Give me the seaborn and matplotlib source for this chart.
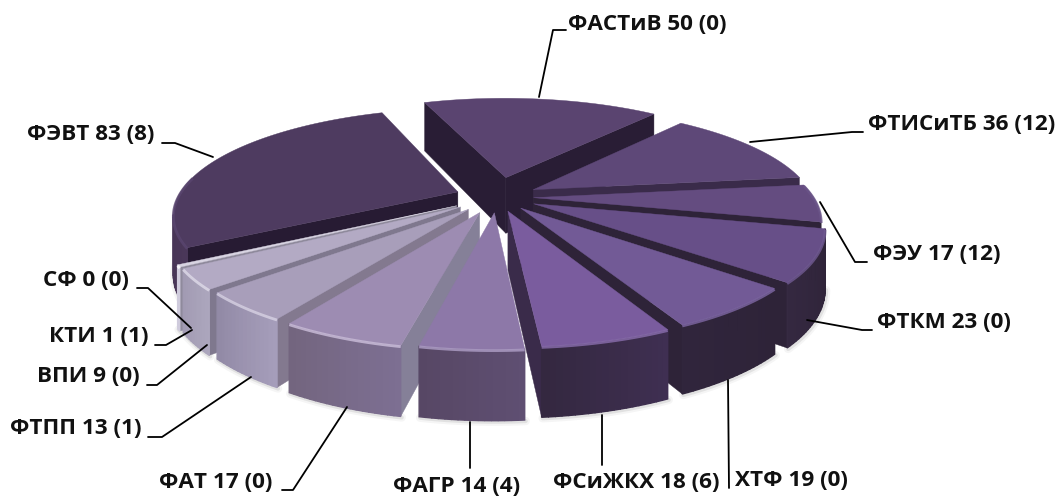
import numpy as np
import matplotlib
matplotlib.use("Agg")
import matplotlib.pyplot as plt
import seaborn as sns

# Data
names = ["ФАСТиВ", "ФТИСиТБ", "ФЭУ", "ФТКМ", "ХТФ", "ФСиЖКХ", "ФАГР", "ФАТ", "ФТПП", "ВПИ", "КТИ", "СФ", "ФЭВТ"]
values = [50, 36, 17, 23, 19, 18, 14, 17, 13, 9, 1, 0, 83]
second = [0, 12, 12, 0, 0, 6, 4, 0, 1, 0, 1, 0, 8]

# how far each slice is pulled out
explode = [0.20, 0.15, 0.13, 0.145, 0.135, 0.14, 0.15, 0.16, 0.155, 0.16, 0.165, 0.165, 0.15]

# colours: top, radial side, outer wall
top_colors = ["#5a4470", "#5e4878", "#644c80", "#674f88", "#725a96", "#7a5c9e", "#8d78a8",
              "#9d8cb2", "#a89eba", "#b3aac4", "#d8d4e2", "#d8d4e2", "#4e3b60"]
side_colors = ["#291d35", "#3a2b4a", "#2e2338", "#2e2338", "#2e2338", "#3a2b4a", "#8a8098",
               "#858098", "#83798f", "#7f788e", "#8f8a9c", "#8f8a9c", "#271b33"]
wall_colors = [("#3a2b4a", "#3a2b4a"), ("#3a2b4a", "#3a2b4a"), ("#2e2338", "#2e2338"), ("#2e2338", "#342840"),
               ("#2e2338", "#30253c"), ("#3f2f52", "#342840"), ("#5f4f72", "#574765"), ("#7d6f92", "#73657f"),
               ("#a59dba", "#928aa6"), ("#aca6bd", "#a29bb3"), ("#cfcbdc", "#cfcbdc"), ("#cfcbdc", "#cfcbdc"),
               ("#4a3759", "#3c2c4a")]
rim_colors = ["#5f4a78", "#64507e", "#6a5488", "#705a92", "#7e67a4", "#8a6eae", "#b0a0c8", "#cdc0dc",
              "#d8d2e4", "#e0dcea", "#ffffff", "#ffffff", "#5a4670"]

# perspective of the disc
CX, CY = 497, 197
KX, KY = 1400, 511
D = 5.0
START = -20.5


def project(x, y):
    return CX + KX * x / (D - y), CY + KY * y / (D - y)


def drop(y):
    # wall height gets bigger towards the viewer
    return 345 / (6.0 - y)


def quad_area(px, py):
    return 0.5 * np.sum(px * np.roll(py, -1) - np.roll(px, -1) * py)


sns.set_theme(style="white")
plt.rcParams["font.family"] = ["Open Sans", "Noto Sans"]
fig = plt.figure(figsize=(10.61, 4.99), dpi=100)
ax = fig.add_axes([0, 0, 1, 1])
ax.set_xlim(0, 1061)
ax.set_ylim(499, 0)
ax.axis("off")

total = sum(values)
angles = START + np.cumsum([0] + values) / total * 360

slices = []
for i, name in enumerate(names):
    if values[i] == 0:
        continue
    a0, a1 = np.radians(angles[i]), np.radians(angles[i + 1])
    mid = (a0 + a1) / 2
    ex, ey = explode[i] * np.sin(mid), -explode[i] * np.cos(mid)
    t = np.linspace(a0, a1, max(4, values[i] + 3))
    arc_x, arc_y = ex + np.sin(t), ey - np.cos(t)
    slices.append((np.mean(arc_y) + ey, i, ex, ey, arc_x, arc_y))

# back slices first
order = 1
for _, i, ex, ey, arc_x, arc_y in sorted(slices, key=lambda s: s[0]):
    order += 1
    x0, y0 = project(ex, ey)
    top_x, top_y = project(arc_x, arc_y)
    h0 = drop(ey)
    hs = drop(arc_y)

    # soft shadow under the front edge
    if arc_y.max() > 0:
        for w, alpha in ((6, 0.06), (3, 0.12)):
            ax.plot(top_x + 1, top_y + hs + 1, color="#555555", lw=w, alpha=alpha, zorder=1)

    # radial sides, only those facing us
    for k, sign in ((0, 1), (-1, -1)):
        px = np.array([x0, top_x[k], top_x[k], x0])
        py = np.array([y0, top_y[k], top_y[k] + hs[k], y0 + h0])
        if quad_area(px, py) * sign < 0:
            ax.fill(px, py, color=side_colors[i], lw=0.3, zorder=order)

    # outer wall, split in bits so the shade can change along it
    n = len(arc_x)
    c_a, c_b = [np.array(matplotlib.colors.to_rgb(c)) for c in wall_colors[i]]
    for k in range(n - 1):
        px = np.array([top_x[k], top_x[k + 1], top_x[k + 1], top_x[k]])
        py = np.array([top_y[k], top_y[k + 1], top_y[k + 1] + hs[k + 1], top_y[k] + hs[k]])
        if quad_area(px, py) > 0:
            continue
        ax.fill(px, py, color=c_a + (c_b - c_a) * k / max(n - 2, 1), lw=1.0, zorder=order)

    # top
    ax.fill(np.r_[x0, top_x], np.r_[y0, top_y], color=top_colors[i], lw=0.3, zorder=order)

    # bevel along the front of the top
    front = arc_y > -0.2
    if front.sum() > 1:
        ax.plot(top_x[front], top_y[front] + 1, color=rim_colors[i], lw=2.0, alpha=0.8,
                solid_capstyle="butt", zorder=order)

# leader lines
leaders = {
    "ФАСТиВ": [(566, 30), (553, 30), (539, 97)],
    "ФТИСиТБ": [(863, 132), (852, 132), (750, 142)],
    "ФЭУ": [(820, 202), (855, 262), (867, 262)],
    "ФТКМ": [(807, 320), (862, 330), (872, 330)],
    "ХТФ": [(728, 380), (729, 488)],
    "ФСиЖКХ": [(602, 415), (602, 465)],
    "ФАГР": [(470, 422), (470, 468)],
    "ФАТ": [(347, 407), (293, 490), (282, 490)],
    "ФТПП": [(251, 377), (162, 437), (148, 437)],
    "ВПИ": [(207, 345), (157, 385), (147, 385)],
    "КТИ": [(192, 330), (166, 345), (155, 345)],
    "СФ": [(191, 328), (148, 288), (137, 288)],
    "ФЭВТ": [(213, 157), (175, 143), (162, 143)],
}
for pts in leaders.values():
    xs, ys = zip(*pts)
    ax.plot(xs, ys, color="black", lw=1.3, zorder=30)

label_pos = {
    "ФАСТиВ": (568, 24), "ФТИСиТБ": (868, 124), "ФЭУ": (873, 254), "ФТКМ": (877, 323),
    "ХТФ": (735, 481), "ФСиЖКХ": (553, 483), "ФАГР": (393, 487), "ФАТ": (159, 482),
    "ФТПП": (10, 428), "ВПИ": (37, 377), "КТИ": (49, 337), "СФ": (43, 280), "ФЭВТ": (27, 135),
}
for name, val, sec in zip(names, values, second):
    x, y = label_pos[name]
    ax.text(x, y, f"{name} {val} ({sec})", fontsize=16.2, fontweight="bold", color="#111111",
            ha="left", va="center", zorder=31)

fig.savefig("out.png", dpi=100, facecolor="white")
